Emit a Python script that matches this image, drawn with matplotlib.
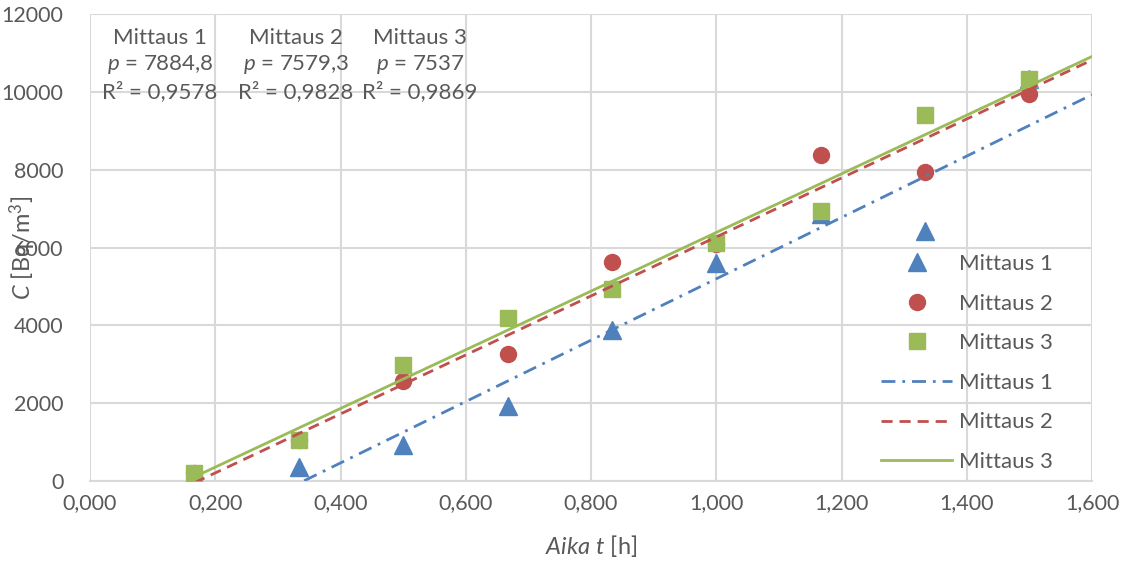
import numpy as np
import matplotlib
matplotlib.use("Agg")
import matplotlib.pyplot as plt
from matplotlib.ticker import FuncFormatter, MultipleLocator

plt.rcParams['font.family'] = ['Lato', 'DejaVu Sans']
plt.rcParams['mathtext.fontset'] = 'custom'
plt.rcParams['mathtext.it'] = 'Lato:italic'
plt.rcParams['mathtext.rm'] = 'Lato'

# Measurement times [h]
t_all = np.array([1, 2, 3, 4, 5, 6, 7, 8, 9]) / 6.0

# Radon concentration C [Bq/m3] for each measurement
c1 = [360, 925, 1928, 3880, 5600, 6850, 6430, 10330]      # from t = 2/6
c2 = [200, 1050, 2570, 3265, 5630, 6080, 8380, 7940, 9950]
c3 = [205, 1054, 2980, 4190, 4935, 6120, 6940, 9410, 10335]

t1 = t_all[1:]
t2 = t_all
t3 = t_all

# Trend slopes and fit quality
slopes = [7884.8, 7579.3, 7537]
slope_txt = ["7884,8", "7579,3", "7537"]
r2_txt = ["0,9578", "0,9828", "0,9869"]
names = ["Mittaus 1", "Mittaus 2", "Mittaus 3"]

blue = "#4f81bd"
red = "#c0504d"
green = "#9bbb59"
txt = "#595959"
grid = "#d9d9d9"

fig = plt.figure(figsize=(11.36, 5.67), dpi=100)
ax = fig.add_axes([90 / 1136, 1 - 481 / 567, 1002 / 1136, 467 / 567])

h1, = ax.plot(t1, c1, ls='none', marker='^', ms=12.5, color=blue, label=names[0], zorder=3)
h2, = ax.plot(t2, c2, ls='none', marker='o', ms=11.5, color=red, label=names[1], zorder=3)
h3, = ax.plot(t3, c3, ls='none', marker='s', ms=11.5, color=green, label=names[2], zorder=3)

# Linear trend lines with the stated slopes, through the data centroid
styles = [(blue, (0, (5, 2.5, 1, 2.5))), (red, (0, (4, 2.5))), (green, '-')]
line_handles = []
for (tx, cy), p, (col, ls), nm in zip([(t1, c1), (t2, c2), (t3, c3)], slopes, styles, names):
    b = np.mean(cy) - p * np.mean(tx)
    xs = np.array([1 / 6, 1.6])
    lh, = ax.plot(xs, p * xs + b, color=col, ls=ls, lw=2, label=nm, zorder=4)
    line_handles.append(lh)

ax.set_xlim(0, 1.6)
ax.set_ylim(0, 12000)
ax.xaxis.set_major_locator(MultipleLocator(0.2))
ax.yaxis.set_major_locator(MultipleLocator(2000))
ax.xaxis.set_major_formatter(FuncFormatter(lambda v, _: f"{v:.3f}".replace('.', ',')))
ax.yaxis.set_major_formatter(FuncFormatter(lambda v, _: f"{v:.0f}"))
ax.grid(True, color=grid, lw=1.5, zorder=0)
ax.set_axisbelow(True)
for s in ['left', 'right', 'top']:
    ax.spines[s].set_visible(False)
ax.spines['bottom'].set_color(grid)
ax.spines['bottom'].set_linewidth(1.5)
ax.tick_params(length=0, labelsize=15.5, labelcolor=txt, pad=9)
ax.tick_params(axis='y', pad=19)

ax.set_xlabel(r"$Aika\ t$ [h]", fontsize=17, color=txt, labelpad=14)
ax.set_ylabel(r"$C$ [Bq/m$^3$]", fontsize=17, color=txt, va='center')
ax.yaxis.set_label_coords(-0.067, 0.5)

# Fit summary blocks
for xc, nm, p, r2 in zip([160, 296, 420], names, slope_txt, r2_txt):
    xf = xc / 1136
    fig.text(xf, 1 - 38 / 567, nm, ha='center', va='center', fontsize=16, color=txt)
    fig.text(xf, 1 - 65 / 567, rf"$p$ = {p}", ha='center', va='center', fontsize=16, color=txt)
    fig.text(xf, 1 - 92 / 567, f"R² = {r2}", ha='center', va='center', fontsize=16, color=txt)

leg = ax.legend(handles=[h1, h2, h3] + line_handles, loc='upper left',
                bbox_to_anchor=(870 / 1136, 1 - 243 / 567), bbox_transform=fig.transFigure,
                frameon=False, fontsize=16, labelcolor=txt, handlelength=3.2,
                handletextpad=0.3, labelspacing=0.88, borderpad=0)

fig.savefig("out.png", dpi=100)
